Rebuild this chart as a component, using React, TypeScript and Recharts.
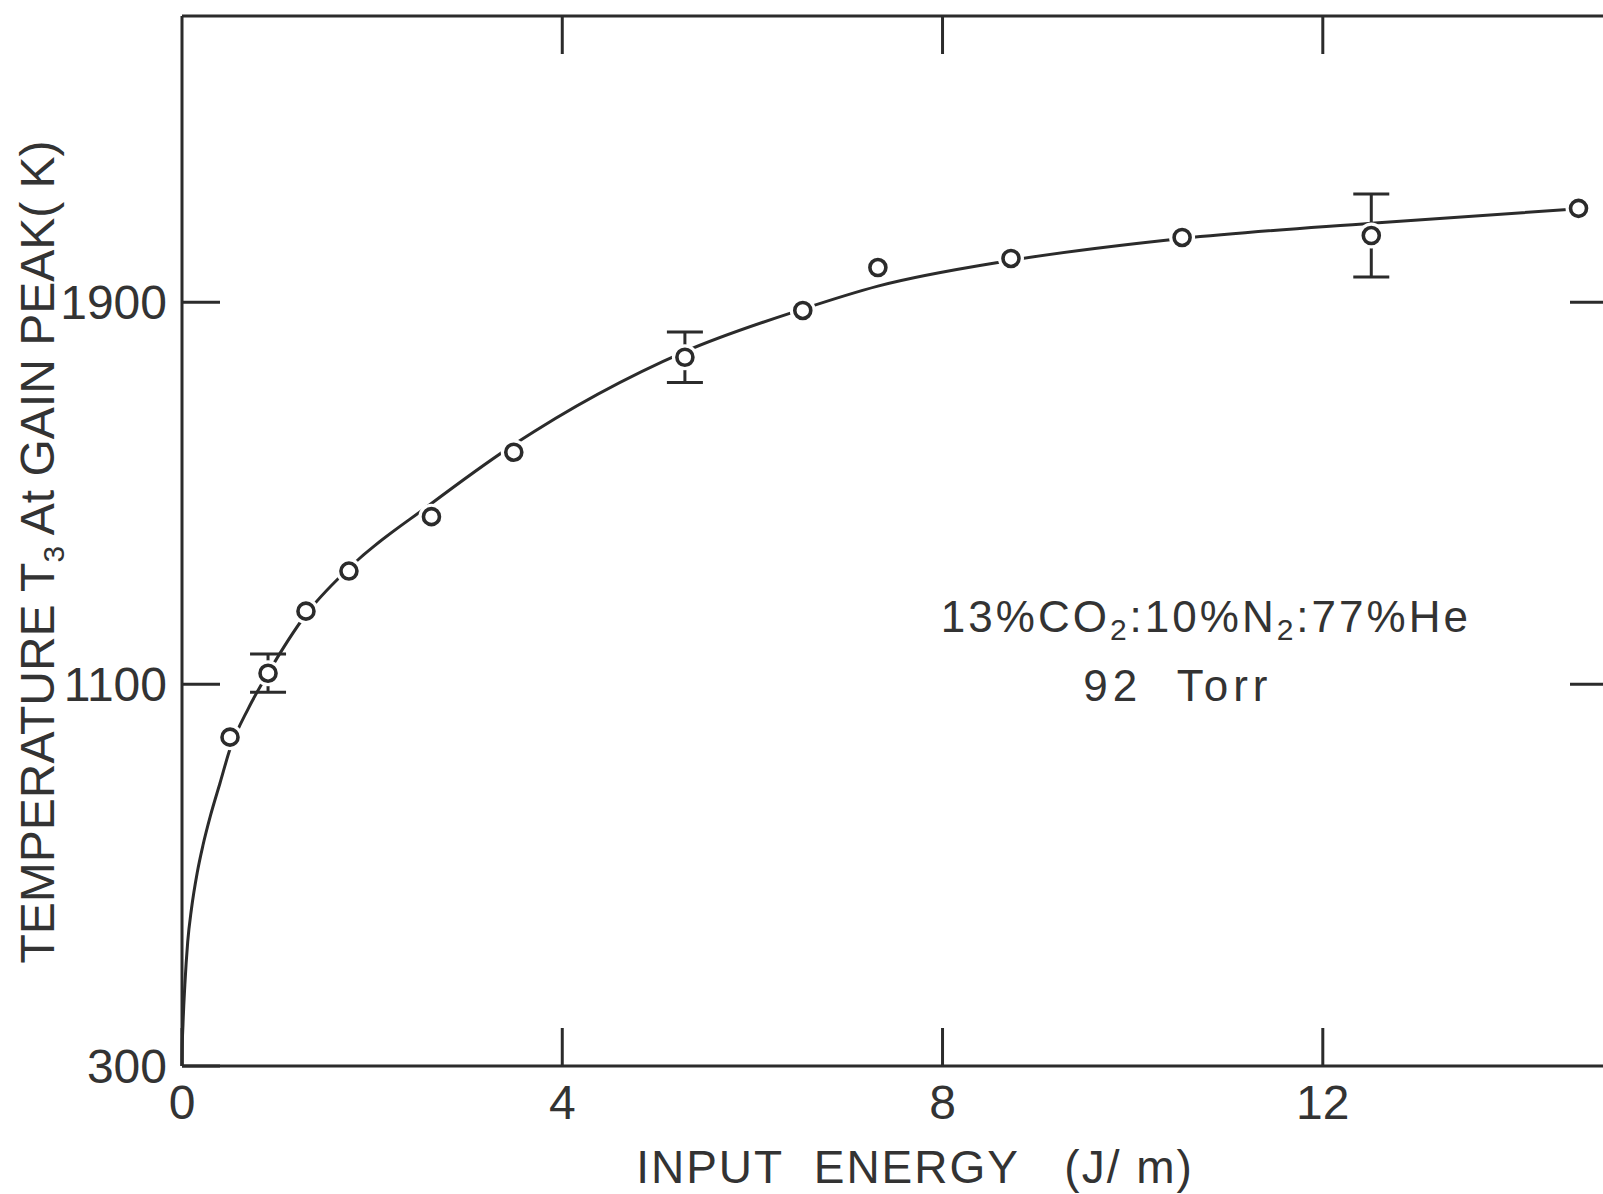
import React from 'react';
import { ComposedChart, Line, Scatter, XAxis, YAxis, ErrorBar, ReferenceDot } from 'recharts';

// Measured points: input energy (J/m) vs T3 at gain peak (K)
const pointEnergy = [0.505, 0.905, 1.304, 1.756, 2.624, 3.49, 5.29, 6.53, 7.32, 8.72, 10.52, 12.51, 14.69];
const pointTemp = [989, 1123, 1253, 1337, 1451, 1586, 1785, 1883, 1973, 1992, 2036, 2040, 2097];
const pointErr = [0, 40, 0, 0, 0, 0, 53, 0, 0, 0, 0, 87, 0];

// Hand-drawn fitted curve
const curveEnergy = [0, 0.002, 0.01, 0.03, 0.06, 0.1, 0.16, 0.22, 0.3, 0.4, 0.505, 0.7, 0.905, 1.3, 1.756, 2.62, 3.49, 5.29, 6.53, 7.32, 8.72, 10.52, 12.51, 14.69];
const curveTemp = [300, 335, 385, 470, 560, 630, 705, 762, 825, 893, 964, 1050, 1123, 1245, 1343, 1478, 1602, 1797, 1886, 1934, 1988, 2034, 2066, 2096];

const xTicks = [0, 4, 8, 12];
const xTopTicks = [4, 8, 12];
const yTicks = [300, 1100, 1900];
const yRightTicks = [1100, 1900];

const INK = '#2b2b2b';
const FONT = '"Liberation Sans", Arial, sans-serif';

const curveData = curveEnergy.map((x, i) => ({ x, y: curveTemp[i] }));
const pointData = pointEnergy.map((x, i) => ({ x, y: pointTemp[i], err: pointErr[i] }));
const errData = pointData.filter((d) => d.err > 0);

const Empty = () => <g />;

const renderYLabel = (props: any) => {
  const vb = props.viewBox || {};
  const X = (vb.x || 0) + 54;
  const Y = (vb.y || 0) + (vb.height || 0) / 2 + 11;
  return (
    <text
      x={X}
      y={Y}
      transform={`rotate(-90, ${X}, ${Y})`}
      textAnchor="middle"
      fontFamily={FONT}
      fontSize={48}
      fill="#333"
    >
      <tspan>TEMPERATURE T</tspan>
      <tspan dy={10} fontSize={30}>3</tspan>
      <tspan dy={-10}>{' At GAIN PEAK( K)'}</tspan>
    </text>
  );
};

const renderXLabel = (props: any) => {
  const vb = props.viewBox || {};
  const X = (vb.x || 0) + (vb.width || 0) / 2 + 20;
  const Y = (vb.y || 0) + (vb.height || 0) - 11;
  return (
    <text x={X} y={Y} textAnchor="middle" fontFamily={FONT} fontSize={46} fill="#333" letterSpacing={2}>
      {'INPUT\u00A0\u00A0ENERGY\u00A0\u00A0\u00A0(J/\u00A0m)'}
    </text>
  );
};

const renderNote = (props: any) => {
  const vb = props.viewBox || {};
  const X = vb.x || 0;
  const Y = vb.y || 0;
  return (
    <g fontFamily={FONT} fill="#333">
      <text x={X} y={Y} textAnchor="middle" fontSize={44} letterSpacing={3}>
        <tspan>13%CO</tspan>
        <tspan dy={8} fontSize={30}>2</tspan>
        <tspan dy={-8}>:10%N</tspan>
        <tspan dy={8} fontSize={30}>2</tspan>
        <tspan dy={-8}>:77%He</tspan>
      </text>
      <text x={X - 28} y={Y + 69} textAnchor="middle" fontSize={44} letterSpacing={5}>
        {'92\u00A0\u00A0Torr'}
      </text>
    </g>
  );
};

const Halo = (p: any) => <circle cx={p.cx} cy={p.cy} r={13} fill="#fff" />;
const Ring = (p: any) => (
  <circle cx={p.cx} cy={p.cy} r={8} fill="#fff" stroke={INK} strokeWidth={3.6} />
);

export default function App() {
  return (
    <div
      style={{
        position: 'absolute',
        left: 0,
        top: 0,
        width: 1603,
        height: 1194,
        overflow: 'hidden',
        background: '#fff',
      }}
    >
      <ComposedChart width={1620} height={1194} margin={{ top: 6, right: 2, bottom: 0, left: 0 }}>
        <XAxis
          dataKey="x"
          type="number"
          domain={[0, 15]}
          ticks={xTicks}
          interval={0}
          height={128}
          tickSize={-38}
          tickMargin={57}
          stroke={INK}
          strokeWidth={3}
          tick={{ fontSize: 48, fill: '#333', fontFamily: FONT }}
          label={{ content: renderXLabel }}
        />
        <XAxis
          xAxisId="top"
          orientation="top"
          dataKey="x"
          type="number"
          domain={[0, 15]}
          ticks={xTopTicks}
          interval={0}
          height={10}
          tickSize={-38}
          stroke={INK}
          strokeWidth={3}
          tick={Empty}
        />
        <YAxis
          type="number"
          domain={[300, 2500]}
          ticks={yTicks}
          interval={0}
          width={182}
          tickSize={-38}
          tickMargin={53}
          stroke={INK}
          strokeWidth={3}
          tick={{ fontSize: 48, fill: '#333', fontFamily: FONT }}
          label={{ content: renderYLabel }}
        />
        <YAxis
          yAxisId="right"
          orientation="right"
          type="number"
          domain={[300, 2500]}
          ticks={yRightTicks}
          interval={0}
          width={10}
          tickSize={-38}
          stroke={INK}
          strokeWidth={3}
          tick={Empty}
        />
        <Line
          data={curveData}
          dataKey="y"
          type="monotone"
          stroke={INK}
          strokeWidth={3}
          dot={false}
          activeDot={false}
          isAnimationActive={false}
        />
        <Scatter
          data={pointData}
          dataKey="y"
          xAxisId="top"
          yAxisId="right"
          shape={Empty}
          isAnimationActive={false}
        />
        <Scatter data={pointData} dataKey="y" shape={Halo} isAnimationActive={false} />
        <Scatter data={errData} dataKey="y" shape={Empty} isAnimationActive={false}>
          <ErrorBar dataKey="err" direction="y" width={18} stroke={INK} strokeWidth={3} />
        </Scatter>
        <Scatter data={pointData} dataKey="y" shape={Ring} isAnimationActive={false} />
        <ReferenceDot x={10.77} y={1209} r={0} label={{ content: renderNote }} />
      </ComposedChart>
    </div>
  );
}
